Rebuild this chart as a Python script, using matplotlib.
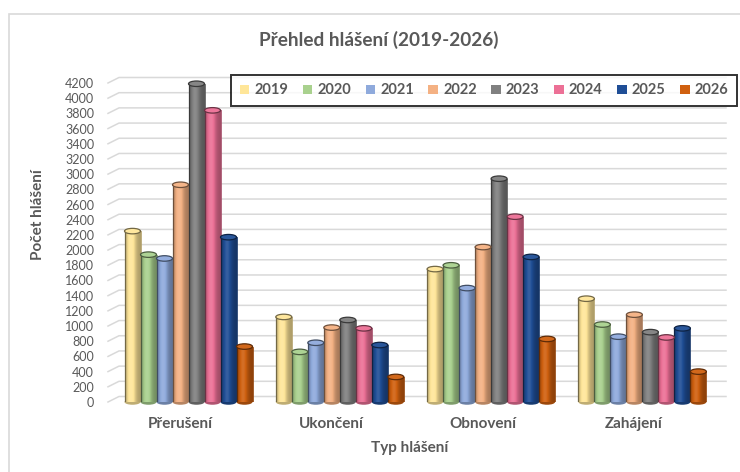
import numpy as np
import matplotlib
matplotlib.use('Agg')
import matplotlib.pyplot as plt
from matplotlib.patches import Ellipse, Rectangle, Patch
from matplotlib.colors import to_rgb

plt.rcParams['font.family'] = ['Lato', 'DejaVu Sans']

categories = ['Přerušení', 'Ukončení', 'Obnovení', 'Zahájení']
years = ['2019', '2020', '2021', '2022', '2023', '2024', '2025', '2026']

v2019 = [2250, 1120, 1750, 1360]
v2020 = [1940, 660, 1800, 1020]
v2021 = [1890, 780, 1500, 860]
v2022 = [2860, 980, 2040, 1150]
v2023 = [4190, 1080, 2940, 920]
v2024 = [3840, 970, 2440, 850]
v2025 = [2170, 750, 1910, 970]
v2026 = [730, 330, 830, 400]

colors = ['#FFE699', '#A9D18E', '#8FAADC', '#F4B183',
          '#808080', '#EC7096', '#1F4E96', '#D0600F']

yticks = list(range(0, 4201, 200))

series = [v2019, v2020, v2021, v2022, v2023, v2024, v2025, v2026]

W, H = 740, 472
TXT = '#595959'


def fx(px):
    return px / W


def fy(py):
    return 1 - py / H


def shade(base, s):
    base = np.array(base)
    if s < 1:
        return base * s
    return base + (1 - base) * (s - 1)


fig = plt.figure(figsize=(W / 100, H / 100), dpi=100)

# chart area border
fig.patches.append(Rectangle((fx(8.5), fy(476)), 1, fy(13.5) - fy(476),
                             transform=fig.transFigure, fill=False,
                             edgecolor='#D9D9D9', lw=1.2))

ax_l, ax_r, ax_b, ax_t = 108, 726, 402, 83
ax = fig.add_axes([fx(ax_l), fy(ax_b), fx(ax_r - ax_l), fy(ax_t) - fy(ax_b)])

spacing = 151.3
xmin = (ax_l - 188.5) / spacing
xmax = (ax_r - 188.5) / spacing
ymax = 4200
px_per_unit = (ax_b - ax_t) / ymax

# gridlines with a short slanted part on the left (3D floor depth)
off = 5.5 / px_per_unit
slant = 11 / spacing
for v in yticks:
    ax.plot([xmin, xmin + slant, xmax], [v, v + off, v + off],
            color='#D9D9D9', lw=1.1, zorder=0, clip_on=False)

n = len(series)
bw = 16 / spacing
tprof = np.linspace(0, 1, 40)
sprof = 0.68 + 0.42 * np.exp(-((tprof - 0.38) / 0.3) ** 2)
ell_h = 5.5 / px_per_unit

for j, vals in enumerate(series):
    base = to_rgb(colors[j])
    img = np.array([[shade(base, s) for s in sprof]])
    img = np.clip(img, 0, 1)
    edge = shade(base, 0.45)
    for i, v in enumerate(vals):
        x0 = i - n * bw / 2 + j * bw
        x1 = x0 + bw
        xc = (x0 + x1) / 2
        ax.add_patch(Ellipse((xc, 0), bw, ell_h, facecolor=shade(base, 0.75),
                             edgecolor='none', zorder=2, clip_on=False))
        ax.imshow(img, extent=[x0, x1, 0, v], aspect='auto', zorder=3,
                  interpolation='bilinear')
        ax.plot([x0, x0], [0, v], color=edge, lw=0.9, zorder=4)
        ax.plot([x1, x1], [0, v], color=shade(base, 0.7), lw=0.6, zorder=4)
        ax.add_patch(Ellipse((xc, v), bw, ell_h, facecolor=shade(base, 1.05),
                             edgecolor=edge, lw=0.9, zorder=5, clip_on=False))

ax.set_xlim(xmin, xmax)
ax.set_ylim(0, ymax)
ax.set_yticks(yticks)
ax.set_yticklabels([str(t) for t in yticks])
ax.tick_params(axis='y', length=0, pad=10, labelsize=9, labelcolor=TXT)
ax.set_xticks([])
for s in ax.spines.values():
    s.set_visible(False)
ax.patch.set_alpha(0)

# category labels
for i, c in enumerate(categories):
    fig.text(fx(180 + spacing * i), fy(424), c, ha='center', va='center',
             fontsize=11, fontweight='bold', color=TXT)

fig.text(fx(410), fy(448), 'Typ hlášení', ha='center', va='center',
         fontsize=11, fontweight='bold', color=TXT)
fig.text(fx(38), fy(215), 'Počet hlášení', ha='center', va='center',
         rotation=90, fontsize=11, fontweight='bold', color=TXT)
fig.text(fx(379), fy(40), 'Přehled hlášení (2019-2026)', ha='center',
         va='center', fontsize=13.7, fontweight='bold', color=TXT)

handles = [Patch(facecolor=c, edgecolor='none') for c in colors]
leg = fig.legend(handles, years, ncol=8, loc='center',
                 bbox_to_anchor=(fx(484), fy(90.5)),
                 frameon=True, fancybox=False,
                 handlelength=0.65, handleheight=0.65, handletextpad=0.35,
                 columnspacing=1.0, borderpad=0.6,
                 prop={'weight': 'bold', 'size': 10.5})
leg.get_frame().set_edgecolor('black')
leg.get_frame().set_linewidth(1.4)
for t in leg.get_texts():
    t.set_color(TXT)

fig.savefig('out.png', dpi=100)
